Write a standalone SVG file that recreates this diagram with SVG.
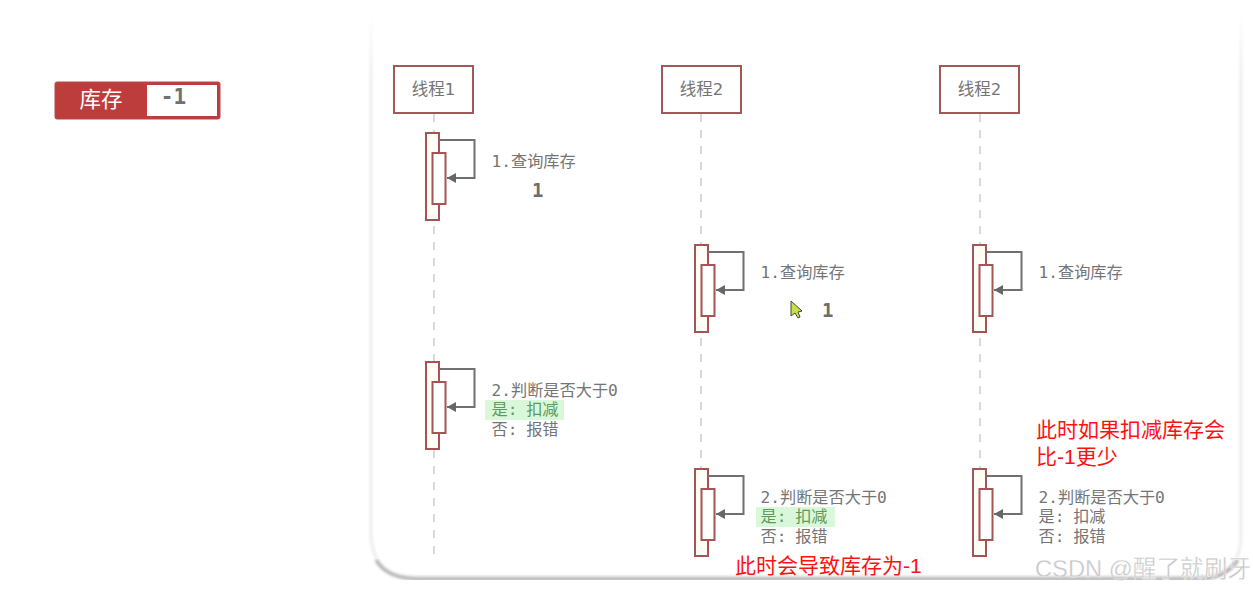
<svg xmlns="http://www.w3.org/2000/svg" width="1253" height="590" viewBox="0 0 1253 590">
<style>
.t{font-family:"DejaVu Sans Mono","Noto Sans CJK SC",monospace;font-size:16.2px;fill:#757575}
.h{font-family:"DejaVu Sans","Noto Sans CJK SC",sans-serif;font-size:16.5px;fill:#757575}
.b{font-family:"DejaVu Sans Mono",monospace;font-weight:700;font-size:19px;fill:#6e6e6e}
.r{font-family:"Liberation Sans","Noto Sans CJK SC",sans-serif;font-size:21px;fill:#f11}
.box{fill:#fff;stroke:#a05858;stroke-width:2}
.o{fill:#fffdf5;stroke:#a55353;stroke-width:2}
.i{fill:#fff;stroke:#a55353;stroke-width:2}
.l{fill:none;stroke:#707070;stroke-width:2}
.d{stroke:#d8d8d8;stroke-width:2;stroke-dasharray:8 8;fill:none}
.g{fill:#d9f8d9}
</style>
<defs>
<filter id="s1" x="-5%" y="-5%" width="110%" height="110%"><feGaussianBlur stdDeviation="1.6"/></filter>
<linearGradient id="fade" x1="0" y1="0" x2="0" y2="1"><stop offset="0" stop-color="#e4e4e4" stop-opacity="0"/><stop offset="0.12" stop-color="#e4e4e4"/></linearGradient>
<g id="act"><rect class="o" x="0" y="0" width="13" height="87"/><path class="l" d="M13 7H48.500V45H21"/><path d="M30 40L21 45L30 50Z" fill="#666"/><rect class="i" x="6.500" y="20" width="13" height="51"/></g>
</defs>
<g id="card">
<path d="M371 12V532Q371 577 416 577H1200Q1238 577 1241 540V12" fill="none" stroke="url(#fade)" stroke-width="2" filter="url(#s1)"/>
<path d="M376 560Q386 578 416 579H1200Q1226 578 1238 560" fill="none" stroke="#9a9a9a" stroke-width="2.5" filter="url(#s1)"/>
</g>
<g id="stock">
<rect x="55" y="82" width="165" height="37" rx="2" fill="#bd3d3d" stroke="#b24a4a" stroke-width="1"/>
<rect x="147" y="85" width="70" height="31" fill="#fff"/>
<text x="101" y="107" text-anchor="middle" font-family="'Noto Sans CJK SC',sans-serif" font-size="21.500" fill="#fff">库存</text>
<text x="173.500" y="104" text-anchor="middle" class="b" style="font-size:21px;fill:#707070">-1</text>
</g>
<g id="connectors">
<path class="d" d="M434 114V558"/><path class="d" d="M701 114V556"/><path class="d" d="M980 114V556"/>
</g>
<g id="thread1"><rect class="box" x="394" y="66" width="79" height="47"/><text class="h" x="433.500" y="95" text-anchor="middle">线程1</text></g>
<g id="thread2"><rect class="box" x="662" y="66" width="79" height="47"/><text class="h" x="701.500" y="95" text-anchor="middle">线程2</text></g>
<g id="thread3"><rect class="box" x="940" y="66" width="79" height="47"/><text class="h" x="979.500" y="95" text-anchor="middle">线程2</text></g>
<g id="a1"><use href="#act" x="426" y="133"/><text class="t" x="491.500" y="167">1.查询库存</text><text class="b" x="532" y="197">1</text></g>
<g id="a2"><use href="#act" x="695" y="245"/><text class="t" x="760.500" y="278">1.查询库存</text><text class="b" x="822" y="317">1</text>
<path d="M791 301V316L795 313L798 318L800 317L798 312L802 311Z" fill="#c8e040" stroke="#444" stroke-width="1"/></g>
<g id="a3"><use href="#act" x="973" y="245"/><text class="t" x="1038.500" y="278">1.查询库存</text></g>
<g id="a4"><use href="#act" x="426" y="362"/><rect class="g" x="485" y="400" width="79" height="20"/>
<text class="t" x="491.500" y="396">2.判断是否大于0</text><text class="t" x="491.500" y="415" style="fill:#5e9a5e">是: <tspan dx="-1">扣减</tspan></text><text class="t" x="491.500" y="435">否: <tspan dx="-1">报错</tspan></text></g>
<g id="a5"><use href="#act" x="695" y="469"/><rect class="g" x="756" y="507" width="79" height="20"/>
<text class="t" x="760.500" y="503">2.判断是否大于0</text><text class="t" x="760.500" y="522" style="fill:#5e9a5e">是: <tspan dx="-1">扣减</tspan></text><text class="t" x="760.500" y="542">否: <tspan dx="-1">报错</tspan></text></g>
<g id="a6"><use href="#act" x="973" y="469"/>
<text class="t" x="1038.500" y="503">2.判断是否大于0</text><text class="t" x="1038.500" y="522">是: <tspan dx="-1">扣减</tspan></text><text class="t" x="1038.500" y="542">否: <tspan dx="-1">报错</tspan></text></g>
<g id="notes">
<text class="r" x="735" y="573">此时会导致库存为-1</text>
<text class="r" x="1036" y="437">此时如果扣减库存会</text>
<text class="r" x="1036" y="464">比-1更少</text>
</g>
<text id="wm" x="1035" y="577" font-family="'Liberation Sans','Noto Sans CJK SC',sans-serif" font-size="23.700" fill="#c8c8c8" stroke="#fff" stroke-width="0.3">CSDN @醒了就刷牙</text>
</svg>
